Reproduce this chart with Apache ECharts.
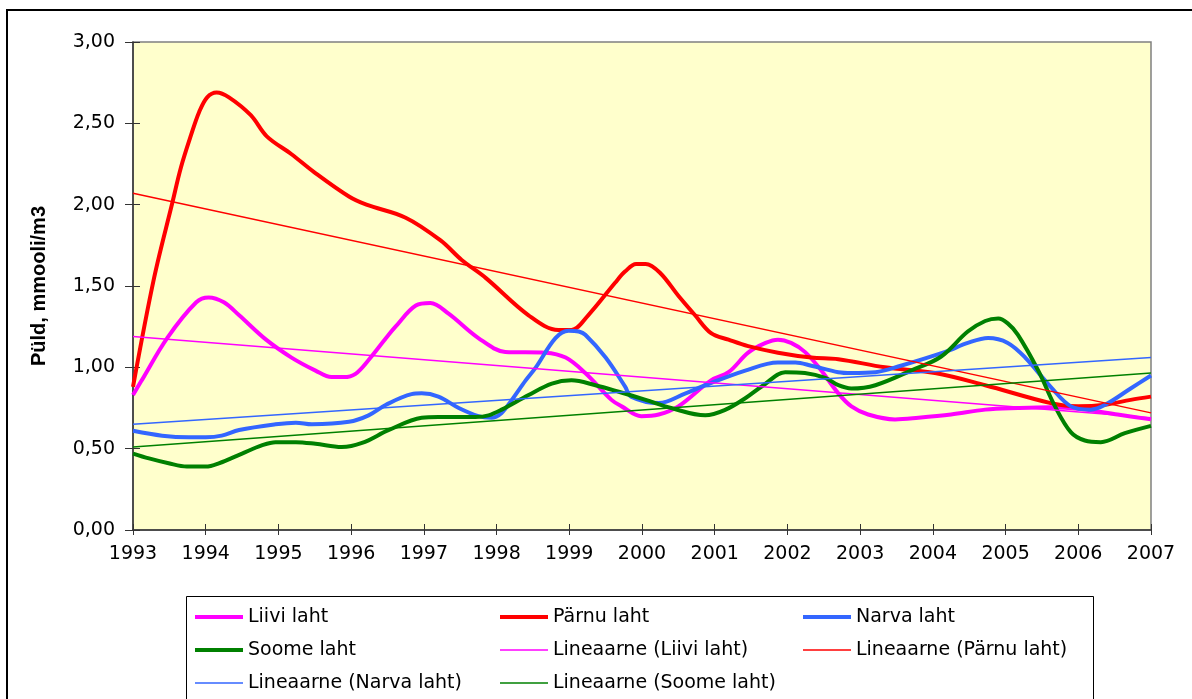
<!DOCTYPE html>
<html>
<head>
<meta charset="utf-8">
<script src="https://cdn.jsdelivr.net/npm/echarts@6/dist/echarts.min.js"></script>
<style>
    html, body { margin: 0; padding: 0; background: #fff; }
    #main { width: 1192px; height: 699px; }
</style>
</head>
<body>
<div id="main"></div>
<script>
// andmed: [aasta, väärtus]
var liivi = [[1993.0,0.83],[1993.12,0.92],[1993.47,1.18],[1993.87,1.40],[1994.04,1.43],[1994.25,1.40],[1994.46,1.32],[1994.83,1.17],[1995.18,1.06],[1995.51,0.98],[1995.73,0.94],[1995.9,0.94],[1996.06,0.96],[1996.24,1.045],[1996.48,1.18],[1996.61,1.25],[1996.89,1.38],[1997.09,1.395],[1997.34,1.33],[1997.75,1.18],[1998.12,1.095],[1998.67,1.09],[1998.95,1.06],[1999.22,0.965],[1999.58,0.80],[1999.72,0.76],[1999.99,0.70],[2000.23,0.71],[2000.5,0.76],[2000.95,0.92],[2001.19,0.97],[2001.46,1.09],[2001.7,1.15],[2001.87,1.17],[2002.05,1.15],[2002.24,1.095],[2002.45,0.99],[2002.7,0.84],[2002.88,0.76],[2003.11,0.71],[2003.48,0.68],[2003.8,0.69],[2004.25,0.71],[2004.72,0.74],[2005.17,0.75],[2005.62,0.755],[2006.09,0.74],[2006.54,0.71],[2007.0,0.68]]
var parnu = [[1993.0,0.88],[1993.29,1.55],[1993.54,2.01],[1993.66,2.23],[1993.8,2.43],[1993.91,2.57],[1994.02,2.66],[1994.15,2.69],[1994.32,2.66],[1994.62,2.55],[1994.84,2.42],[1995.18,2.31],[1995.49,2.20],[1995.97,2.05],[1996.21,2.00],[1996.75,1.92],[1997.23,1.78],[1997.52,1.66],[1997.85,1.55],[1998.44,1.32],[1998.85,1.23],[1999.03,1.23],[1999.26,1.32],[1999.63,1.52],[1999.77,1.59],[1999.92,1.635],[2000.05,1.635],[2000.25,1.58],[2000.5,1.44],[2000.73,1.32],[2000.95,1.21],[2001.19,1.17],[2001.46,1.13],[2001.87,1.09],[2002.33,1.06],[2002.7,1.05],[2003.34,1.00],[2004.03,0.965],[2004.72,0.89],[2005.62,0.78],[2006.0,0.76],[2006.37,0.77],[2006.72,0.80],[2007.0,0.82]]
var narva = [[1993.0,0.61],[1993.4,0.58],[1993.77,0.57],[1994.0,0.57],[1994.22,0.58],[1994.46,0.615],[1994.96,0.65],[1995.24,0.66],[1995.46,0.65],[1995.97,0.665],[1996.24,0.705],[1996.48,0.77],[1996.83,0.835],[1996.97,0.84],[1997.2,0.82],[1997.48,0.75],[1997.75,0.70],[1997.93,0.69],[1998.07,0.72],[1998.21,0.80],[1998.4,0.92],[1998.54,1.00],[1998.81,1.18],[1998.99,1.225],[1999.13,1.22],[1999.22,1.20],[1999.5,1.06],[1999.77,0.88],[1999.85,0.82],[2000.23,0.78],[2000.6,0.84],[2000.87,0.89],[2001.42,0.98],[2001.87,1.03],[2002.11,1.03],[2002.33,1.01],[2002.7,0.97],[2002.88,0.965],[2003.21,0.97],[2003.56,1.01],[2004.17,1.095],[2004.48,1.15],[2004.76,1.18],[2005.03,1.15],[2005.27,1.06],[2005.62,0.88],[2005.9,0.76],[2006.17,0.74],[2006.37,0.77],[2006.72,0.87],[2007.0,0.95]]
var soome = [[1993.0,0.47],[1993.22,0.44],[1993.49,0.41],[1993.74,0.39],[1994.0,0.39],[1994.18,0.41],[1994.5,0.47],[1994.77,0.52],[1994.96,0.54],[1995.24,0.54],[1995.51,0.53],[1995.87,0.51],[1996.15,0.535],[1996.52,0.615],[1996.97,0.69],[1997.2,0.695],[1997.71,0.695],[1997.89,0.705],[1998.07,0.74],[1998.44,0.83],[1998.76,0.90],[1999.03,0.92],[1999.36,0.89],[1999.68,0.85],[2000.05,0.80],[2000.4,0.75],[2000.87,0.705],[2001.15,0.74],[2001.42,0.81],[2001.67,0.89],[2001.97,0.97],[2002.24,0.965],[2002.52,0.935],[2002.7,0.89],[2002.88,0.87],[2003.21,0.89],[2003.7,0.98],[2004.11,1.065],[2004.48,1.22],[2004.72,1.285],[2004.9,1.30],[2005.03,1.27],[2005.17,1.20],[2005.45,0.98],[2005.68,0.76],[2005.9,0.60],[2006.09,0.55],[2006.31,0.54],[2006.64,0.595],[2007.0,0.64]]
// lineaarsed trendid (algus ja lõpp)
var trendLiivi = [[1993,1.19],[2007,0.69]]
var trendParnu = [[1993,2.07],[2007,0.72]]
var trendNarva = [[1993,0.65],[2007,1.06]]
var trendSoome = [[1993,0.51],[2007,0.965]]
var yTicks = { min: 0, max: 3, step: 0.5 }

var FONT = 'DejaVu Sans'
var cMag = '#FF00FF', cRed = '#FF0000', cBlue = '#3366FF', cGreen = '#008000'

function mainLine(name, data, color) {
    return {
        name: name, type: 'line', data: data, smooth: 0.35,
        symbol: 'none', lineStyle: { color: color, width: 4 },
        itemStyle: { color: color }, z: 3
    }
}
function trendLine(name, data, color) {
    return {
        name: name, type: 'line', data: data,
        symbol: 'none', lineStyle: { color: color, width: 1.5 },
        itemStyle: { color: color }, z: 4
    }
}
// legendi kirje: paks joon põhiseeriale, peenike trendile
function li(name, thick) {
    return { name: name, itemStyle: { opacity: 0 }, lineStyle: { width: thick ? 4 : 1.5 } }
}

var legendBase = {
    orient: 'vertical', itemWidth: 48, itemHeight: 14, itemGap: 13,
    top: 602,
    itemStyle: { opacity: 0 },
    textStyle: { fontFamily: FONT, fontSize: 19, color: '#000', lineHeight: 20 },
    selectedMode: false
}

var myChart = echarts.init(document.querySelector('#main'))
var option = {
    backgroundColor: '#fff',
    animation: false,
    grid: {
        left: 133, top: 42, right: 41, bottom: 169,
        show: true, backgroundColor: '#FFFFCC', borderColor: '#808080', borderWidth: 1.5
    },
    legend: [
        Object.assign({}, legendBase, { left: 188, data: [li('Liivi laht', true), li('Soome laht', true), li('Lineaarne (Narva laht)', false)] }),
        Object.assign({}, legendBase, { left: 493, data: [li('Pärnu laht', true), li('Lineaarne (Liivi laht)', false), li('Lineaarne (Soome laht)', false)] }),
        Object.assign({}, legendBase, { left: 796, data: [li('Narva laht', true), li('Lineaarne (Pärnu laht)', false)] })
    ],
    xAxis: [{
        type: 'value', min: 1993, max: 2007, interval: 1,
        axisLine: { show: true, lineStyle: { color: '#333', width: 1.5 } },
        axisTick: { show: true, length: 5, lineStyle: { color: '#333' } },
        axisLabel: { fontFamily: FONT, fontSize: 19, color: '#000', margin: 15, formatter: function (v) { return String(v) } },
        splitLine: { show: false }
    }, {
        // ristuvad kriipsud
        type: 'value', min: 1993, max: 2007, interval: 1, position: 'bottom',
        axisLine: { show: false },
        axisTick: { show: true, inside: true, length: 6, lineStyle: { color: '#333' } },
        axisLabel: { show: false }, splitLine: { show: false }
    }],
    yAxis: [{
        type: 'value', min: yTicks.min, max: yTicks.max, interval: yTicks.step,
        name: 'Püld, mmooli/m3', nameLocation: 'middle', nameGap: 84,
        nameTextStyle: { fontFamily: 'Liberation Sans', fontWeight: 'bold', fontSize: 20, color: '#000' },
        axisLine: { show: true, lineStyle: { color: '#333', width: 1.5 } },
        axisTick: { show: true, length: 8, lineStyle: { color: '#333' } },
        axisLabel: { fontFamily: FONT, fontSize: 19, color: '#000', margin: 18, formatter: function (v) { return v.toFixed(2).replace('.', ',') } },
        splitLine: { show: false }
    }, {
        type: 'value', min: yTicks.min, max: yTicks.max, interval: yTicks.step, position: 'left',
        axisLine: { show: false },
        axisTick: { show: true, inside: true, length: 7, lineStyle: { color: '#333' } },
        axisLabel: { show: false }, splitLine: { show: false }
    }],
    series: [
        mainLine('Liivi laht', liivi, cMag),
        mainLine('Pärnu laht', parnu, cRed),
        mainLine('Narva laht', narva, cBlue),
        mainLine('Soome laht', soome, cGreen),
        trendLine('Lineaarne (Liivi laht)', trendLiivi, cMag),
        trendLine('Lineaarne (Pärnu laht)', trendParnu, cRed),
        trendLine('Lineaarne (Narva laht)', trendNarva, cBlue),
        trendLine('Lineaarne (Soome laht)', trendSoome, cGreen)
    ],
    graphic: [
        // välimine raam
        { type: 'rect', shape: { x: 7, y: 10, width: 1210, height: 720 }, style: { fill: 'none', stroke: '#000', lineWidth: 2 }, silent: true },
        // legendi kast
        { type: 'rect', shape: { x: 186.5, y: 596.5, width: 907, height: 130 }, style: { fill: 'none', stroke: '#000', lineWidth: 1 }, silent: true }
    ]
}
myChart.setOption(option)
window.addEventListener('resize', function () {
    myChart.resize()
})
</script>
</body>
</html>
